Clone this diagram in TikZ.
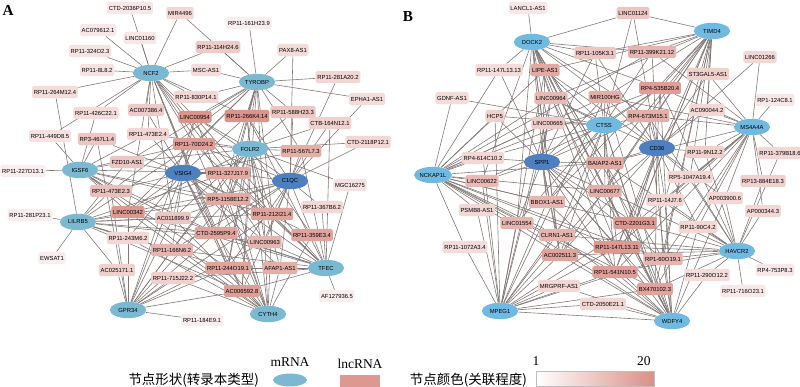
\documentclass[tikz,border=0pt]{standalone}
\usepackage{fontspec}
\setmainfont{Liberation Serif}
\setsansfont{Liberation Sans}
\newfontfamily\cjk{Noto Sans CJK SC}
\usetikzlibrary{shapes.geometric,backgrounds,positioning}

\definecolor{lnchi}{RGB}{213,130,120}
\definecolor{lnclo}{RGB}{251,243,243}
\definecolor{mlight}{RGB}{123,185,211}
\definecolor{msky}{RGB}{112,186,226}
\definecolor{mdark}{RGB}{78,128,192}
\definecolor{linkgray}{RGB}{128,118,115}

\tikzset{
lnc/.style={
		rectangle,
		rounded corners=1.5pt,
		fill=lnchi!#1!lnclo,
		font=\sffamily\fontsize{5}{6}\selectfont,
		inner xsep=1.5pt, inner ysep=0pt,
		minimum height=10.5pt,
		},
mrna/.style={
		ellipse,
		fill=#1,
		font=\sffamily\fontsize{5}{6}\selectfont,
		minimum width=31pt, minimum height=14pt,
		inner sep=0pt,
		},
link/.style={draw=linkgray, line width=0.5pt},
panel/.style={font=\bfseries\fontsize{13}{13}\selectfont},
legtext/.style={font=\fontsize{11.5}{11.5}\selectfont},
}

\begin{document}
\begin{tikzpicture}[x=0.3mm, y=-0.3mm]

\useasboundingbox (0,0) rectangle (800,386);

% ---------- panel A ----------
\node[panel] (labA) at (8,10) {A};

\node[mrna=mlight] (ncf)  at (151,73)  {NCF2};
\node[mrna=mlight] (tyro) at (257,82)  {TYROBP};
\node[mrna=mlight] (folr) at (250,149) {FOLR2};
\node[mrna=mdark]  (vsig) at (183,173) {VSIG4};
\node[mrna=mdark]  (cqc)  at (290,181) {C1QC};
\node[mrna=mlight] (igsf) at (80,170)  {IGSF6};
\node[mrna=mlight] (lilr) at (78,222)  {LILRB5};
\node[mrna=mlight] (gpr)  at (128,310) {GPR34};
\node[mrna=mlight] (tfec) at (326,268) {TFEC};
\node[mrna=mlight] (cyth) at (268,314) {CYTH4};

\node[lnc=10] (a2036) at (130,8)   {CTD-2036P10.5};
\node[lnc=25] (a4496) at (180,13)  {MIR4496};
\node[lnc=10] (a79612) at (98,30)  {AC079612.1};
\node[lnc=10] (a1160) at (140,38)  {LINC01160};
\node[lnc=15] (a324)  at (90,51)   {RP11-324O2.3};
\node[lnc=15] (a8L8)  at (97,70)   {RP11-8L8.2};
\node[lnc=20] (a264)  at (55,92)   {RP11-264M12.4};
\node[lnc=20] (a426)  at (96,113)  {RP11-426C22.1};
\node[lnc=35] (a7386) at (146,110) {AC007386.4};
\node[lnc=25] (a830)  at (196,97)  {RP11-830P14.1};
\node[lnc=85] (a954)  at (195,117) {LINC00954};
\node[lnc=5]  (a161)  at (249,23)  {RP11-161H23.9};
\node[lnc=35] (a114)  at (218,47)  {RP11-114H24.6};
\node[lnc=20] (apax)  at (293,50)  {PAX8-AS1};
\node[lnc=20] (amsc)  at (206,70)  {MSC-AS1};
\node[lnc=25] (a281A) at (338,77)  {RP11-281A20.2};
\node[lnc=20] (aepha) at (367,99)  {EPHA1-AS1};
\node[lnc=40] (a588)  at (293,112) {RP11-588H23.3};
\node[lnc=85] (a266)  at (247,116) {RP11-266K4.14};
\node[lnc=30] (a164)  at (330,123) {CTB-164N12.1};
\node[lnc=25] (a2118) at (368,142) {CTD-2118P12.1};
\node[lnc=60] (a567)  at (301,151) {RP11-567L7.3};
\node[lnc=75] (a70)   at (194,144) {RP11-70D24.2};
\node[lnc=65] (a327)  at (228,173) {RP11-327J17.9};
\node[lnc=15] (amgc)  at (350,185) {MGC16275};
\node[lnc=65] (a1158) at (228,199) {RP5-1158E12.2};
\node[lnc=25] (a367)  at (322,207) {RP11-367B6.2};
\node[lnc=70] (a212)  at (272,214) {RP11-212I21.4};
\node[lnc=15] (a449)  at (50,136)  {RP11-449D8.5};
\node[lnc=40] (a467)  at (97,139)  {RP3-467L1.4};
\node[lnc=25] (a473b) at (148,134) {RP11-473E2.4};
\node[lnc=5]  (a227)  at (23,171)  {RP11-227D13.1};
\node[lnc=40] (afzd)  at (127,162) {FZD10-AS1};
\node[lnc=45] (a473a) at (111,191) {RP11-473E2.3};
\node[lnc=80] (a342)  at (128,212) {LINC00342};
\node[lnc=40] (a1899) at (173,218) {AC011899.9};
\node[lnc=5]  (a281P) at (30,215)  {RP11-281P23.1};
\node[lnc=5]  (aews)  at (52,258)  {EWSAT1};
\node[lnc=25] (a243)  at (128,238) {RP11-243M6.2};
\node[lnc=55] (a166)  at (172,250) {RP11-166N6.2};
\node[lnc=30] (a5171) at (117,270) {AC025171.1};
\node[lnc=30] (a715)  at (173,278) {RP11-715J22.2};
\node[lnc=5]  (a184)  at (202,320) {RP11-184E9.1};
\node[lnc=70] (a2595) at (216,233) {CTD-2595P9.4};
\node[lnc=55] (a963)  at (265,242) {LINC00963};
\node[lnc=70] (a359)  at (312,235) {RP11-359E3.4};
\node[lnc=70] (a244)  at (228,268) {RP11-244O19.1};
\node[lnc=60] (aafap) at (280,268) {AFAP1-AS1};
\node[lnc=5]  (a7936) at (337,296) {AF127936.5};
\node[lnc=75] (a6592) at (242,291) {AC006592.8};

% ---------- panel B ----------
\node[panel] (labB) at (408,17) {B};

\node[mrna=msky]  (dock) at (532,42)  {DOCK2};
\node[mrna=msky]  (timd) at (712,31)  {TIMD4};
\node[mrna=msky]  (ctss) at (604,125) {CTSS};
\node[mrna=msky]  (msa)  at (752,127) {MS4A4A};
\node[mrna=mdark] (cdts) at (657,148) {CD36};
\node[mrna=mdark] (spp)  at (542,162) {SPP1};
\node[mrna=msky]  (nck)  at (433,175) {NCKAP1L};
\node[mrna=msky]  (hav)  at (737,251) {HAVCR2};
\node[mrna=msky]  (mpeg) at (500,311) {MPEG1};
\node[mrna=msky]  (wdfy) at (672,321) {WDFY4};

\node[lnc=10] (blancl) at (528,8)  {LANCL1-AS1};
\node[lnc=40] (b1124) at (633,13)  {LINC01124};
\node[lnc=40] (b105)  at (595,53)  {RP11-105K3.1};
\node[lnc=55] (b399)  at (652,52)  {RP11-399K21.12};
\node[lnc=20] (b147t) at (499,70)  {RP11-147L13.13};
\node[lnc=65] (blipe) at (545,70)  {LIPE-AS1};
\node[lnc=30] (bst3)  at (708,74)  {ST3GAL5-AS1};
\node[lnc=25] (b1266) at (760,57)  {LINC01266};
\node[lnc=20] (bgdnf) at (452,98)  {GDNF-AS1};
\node[lnc=50] (b964)  at (551,98)  {LINC00964};
\node[lnc=60] (bmir)  at (605,97)  {MIR100HG};
\node[lnc=75] (b535)  at (660,88)  {RP4-535B20.4};
\node[lnc=10] (b124)  at (775,100) {RP1-124C8.1};
\node[lnc=25] (b0044) at (707,110) {AC090044.2};
\node[lnc=30] (bhcp)  at (495,116) {HCP5};
\node[lnc=35] (b665)  at (548,123) {LINC00665};
\node[lnc=60] (b673)  at (648,116) {RP4-673M15.1};
\node[lnc=30] (b9N)   at (705,152) {RP11-9N12.2};
\node[lnc=25] (b379)  at (780,153) {RP11-379B18.6};
\node[lnc=25] (b614)  at (483,158) {RP4-614C10.2};
\node[lnc=65] (bbai)  at (605,163) {BAIAP2-AS1};
\node[lnc=50] (b622)  at (482,181) {LINC00622};
\node[lnc=25] (b1047) at (690,177) {RP5-1047A19.4};
\node[lnc=30] (b884)  at (763,181) {RP13-884E18.3};
\node[lnc=60] (b677)  at (605,191) {LINC00677};
\node[lnc=25] (b14J)  at (665,200) {RP11-14J7.6};
\node[lnc=25] (b3900) at (725,198) {AP003900.6};
\node[lnc=25] (b0344) at (763,211) {AP000344.3};
\node[lnc=55] (bbbox) at (547,202) {BBOX1-AS1};
\node[lnc=25] (bpsmb) at (477,210) {PSMB8-AS1};
\node[lnc=55] (b1554) at (517,223) {LINC01554};
\node[lnc=80] (b2201) at (635,223) {CTD-2201G3.1};
\node[lnc=25] (b90C)  at (698,227) {RP11-90C4.2};
\node[lnc=55] (bclrn) at (557,235) {CLRN1-AS1};
\node[lnc=20] (b1072) at (465,247) {RP11-1072A3.4};
\node[lnc=80] (b147e) at (617,247) {RP11-147L13.11};
\node[lnc=70] (b2511) at (560,255) {AC002511.3};
\node[lnc=55] (b60O)  at (663,259) {RP1-60O19.1};
\node[lnc=10] (b753)  at (775,270) {RP4-753P8.3};
\node[lnc=75] (b541)  at (615,272) {RP11-541N10.5};
\node[lnc=20] (b290)  at (707,275) {RP11-290O12.2};
\node[lnc=25] (bmrg)  at (559,286) {MRGPRF-AS1};
\node[lnc=70] (bbx)   at (655,289) {BX470102.3};
\node[lnc=10] (b716)  at (743,291) {RP11-716O23.1};
\node[lnc=25] (b2050) at (603,304) {CTD-2050E21.1};

% ---------- links ----------
\begin{scope}[on background layer]
\foreach \t in {a2036,a4496,a79612,a1160,a324,a8L8,a264,a426,a7386,a830,a954,a114,amsc,a449,a70,a342,a1899,a266,a212,a244,a6592,a473b,a963,a327,a2595}
  \draw[link] (ncf) -- (\t);
\foreach \t in {a161,a114,apax,amsc,a281A,aepha,a588,a266,a830,a954,a70,a327,a1158,a212,a342,a963,a2595,a6592,a244,a567,a4496,a473a,afzd}
  \draw[link] (tyro) -- (\t);
\foreach \t in {a266,a588,a164,a567,a70,a327,a1158,a212,amgc,a2118,a954,a342,a1899,a963,a359,aafap,a244,a2595,a6592,a166,afzd,a473b}
  \draw[link] (folr) -- (\t);
\foreach \t in {a954,a70,a327,a1158,a212,a342,a1899,a2595,a963,a359,a244,aafap,a6592,a166,a473a,afzd,a467,a473b,a7386,a266,a567,a243}
  \draw[link] (vsig) -- (\t);
\foreach \t in {apax,a281A,aepha,a164,a2118,a567,a367,a327,a1158,a212,a70,a954,a266,a2595,a963,a359,a244,aafap,a6592,a342,a1899,a166,a588}
  \draw[link] (cqc) -- (\t);
\foreach \t in {a227,a449,a467,afzd,a473a,a473b,a426,a342,a1899,a70,a327,a1158,a212,a2595,a244,a6592}
  \draw[link] (igsf) -- (\t);
\foreach \t in {a281P,aews,a264,a243,a342,a1899,a473a,a166,a5171,a2595,a1158,a212,a963,a244,a6592,a327,a70,afzd}
  \draw[link] (lilr) -- (\t);
\foreach \t in {a184,a5171,a243,a166,a715,a342,a1899,a2595,a963,a244,a6592,a212,a1158,a327,a70,a954,a473a,a467}
  \draw[link] (gpr) -- (\t);
\foreach \t in {a7936,a367,amgc,a359,aafap,a963,a212,a1158,a327,a567,a244,a2595,a6592,a166,a715,a1899,a342,a70,a954,a266,a164}
  \draw[link] (tfec) -- (\t);
\foreach \t in {a6592,a244,aafap,a963,a359,a2595,a212,a1158,a327,a70,a954,a266,a342,a1899,a166,a715,a243}
  \draw[link] (cyth) -- (\t);

\foreach \t in {blancl,b147t,blipe,b105,b399,b964,bmir,b535,b673,bbai,b677,b2201,b147e,b541,bbx,b2511,bclrn,b1554,bbbox,b622,b665,b60O,b1124}
  \draw[link] (dock) -- (\t);
\foreach \t in {b1124,b399,b105,bst3,b535,b0044,b673,bmir,b964,blipe,bbai,b677,b2201,b147e,b541,bbx,b2511,b60O,b9N,b1047,b14J,bbbox}
  \draw[link] (timd) -- (\t);
\foreach \t in {b1124,b105,b399,blipe,b964,bmir,b535,b673,b665,bbai,b677,b2201,b147e,b541,bbx,b2511,bclrn,b1554,bbbox,b622,b614,bhcp,bgdnf}
  \draw[link] (ctss) -- (\t);
\foreach \t in {b124,b1266,b379,b884,b0344,b9N,b3900,b1047,b14J,b0044,bst3,b535,b399,b673,b2201,b147e,b541,bbx,b60O,b90C,bmir,bbai}
  \draw[link] (msa) -- (\t);
\foreach \t in {b1266,b9N,b1047,b14J,b3900,b90C,b0044,bst3,b535,b673,b399,b105,bmir,b964,blipe,bbai,b677,b2201,b147e,b541,bbx,b2511,b60O,b1124}
  \draw[link] (cdts) -- (\t);
\foreach \t in {b614,b622,bhcp,b665,b964,blipe,bmir,bbai,b677,bbbox,b1554,bclrn,b2511,b2201,b147e,b541,bbx,b60O,b535,b673,b105,b147t}
  \draw[link] (spp) -- (\t);
\foreach \t in {bgdnf,bhcp,b147t,b614,b622,bpsmb,b1072,b665,b964,blipe,bmir,bbai,b677,bbbox,b1554,bclrn,b2511,b2201,b147e,b541,bbx,b60O,b535,b399}
  \draw[link] (nck) -- (\t);
\foreach \t in {b379,b884,b0344,b753,b716,b290,b90C,b3900,b14J,b1047,b9N,b60O,bbx,b541,b147e,b2201,b677,bbai,b673,b535,b2511,bclrn}
  \draw[link] (hav) -- (\t);
\foreach \t in {b1072,bpsmb,bmrg,b2050,b622,b614,bhcp,b1554,bclrn,b2511,bbbox,b541,b147e,b2201,bbx,b60O,b677,bbai,b964,blipe,bmir,b665,wdfy}
  \draw[link] (mpeg) -- (\t);
\foreach \t in {bmrg,b2050,b290,bbx,b60O,b541,b147e,b2201,b2511,bclrn,b1554,bbbox,b677,bbai,bmir,b535,b673,b964,blipe,b14J,b90C,b3900}
  \draw[link] (wdfy) -- (\t);
\end{scope}

% ---------- legend ----------
\node[font=\cjk\fontsize{11.5}{11.5}\selectfont, anchor=east] (shapekey) at (263,380) {节点形状(转录本类型)};
\node[ellipse, fill=mlight, minimum width=29pt, minimum height=11pt, inner sep=0pt] (legm) at (290,380) {};
\node[legtext, above=2pt of legm] (legmt) {mRNA};
\node[rectangle, fill=lnchi!80!lnclo, minimum width=34pt, minimum height=9.5pt, inner sep=0pt] (legl) at (360,381) {};
\node[legtext, above=2.5pt of legl] (leglt) {lncRNA};
\node[font=\cjk\fontsize{11.5}{11.5}\selectfont, anchor=east] (colorkey) at (531,380) {节点颜色(关联程度)};
\node[draw=black!25, line width=0.3pt, minimum width=101pt, minimum height=12.75pt, inner sep=0pt,
      left color=white, right color=lnchi!90!white, anchor=west] (bar) at (536,378.5) {};
\node[legtext, above=1pt of bar.north west, anchor=south] (barlo) {1};
\node[legtext, above=1pt of bar.north east, anchor=south east] (barhi) {20};
\end{tikzpicture}
\end{document}
